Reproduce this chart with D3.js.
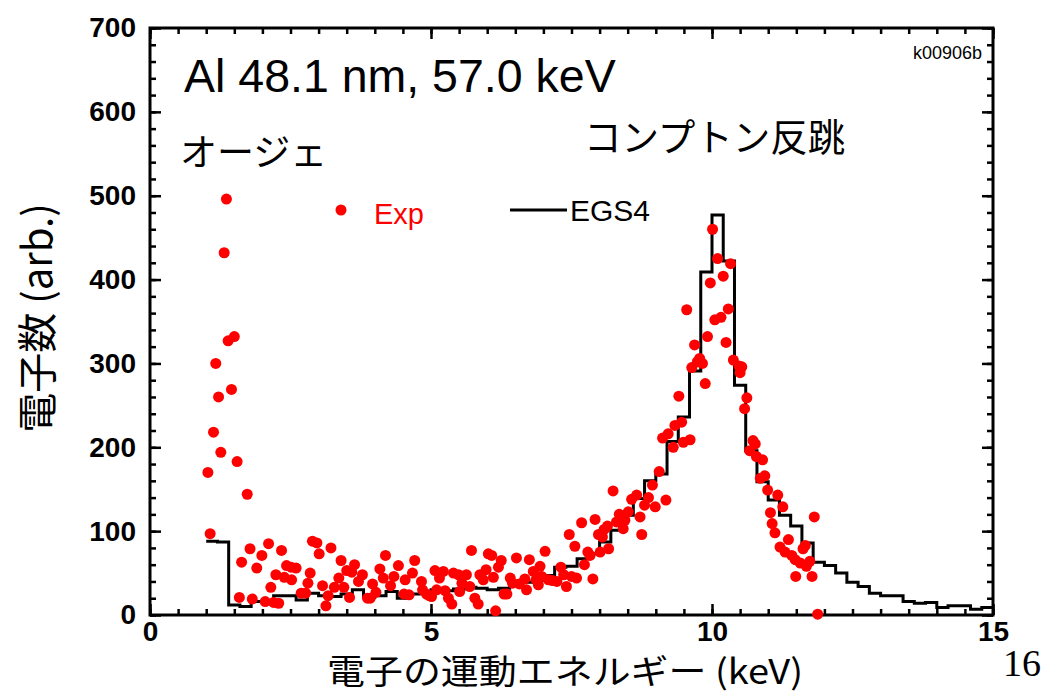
<!DOCTYPE html>
<html>
<head>
<meta charset="utf-8">
<script src="https://cdn.jsdelivr.net/npm/d3@7/dist/d3.min.js"></script>
<style>
  body { margin: 0; background: #fff; }
  svg { display: block; }
</style>
</head>
<body>
<svg id="chart" width="1044" height="694"></svg>
<script>
// axis ticks
var xTickValues = [0, 5, 10, 15];
var yTickValues = [0, 100, 200, 300, 400, 500, 600, 700];

// EGS4 histogram: left edge of each 0.2 keV bin and its count
var egsEnergy = [
    1.0, 1.2, 1.4, 1.6, 1.8, 2.0, 2.2, 2.4, 2.6, 2.8,
    3.0, 3.2, 3.4, 3.6, 3.8, 4.0, 4.2, 4.4, 4.6, 4.8,
    5.0, 5.2, 5.4, 5.6, 5.8, 6.0, 6.2, 6.4, 6.6, 6.8,
    7.0, 7.2, 7.4, 7.6, 7.8, 8.0, 8.2, 8.4, 8.6, 8.8,
    9.0, 9.2, 9.4, 9.6, 9.8, 10.0, 10.2, 10.4, 10.6, 10.8,
    11.0, 11.2, 11.4, 11.6, 11.8, 12.0, 12.2, 12.4, 12.6, 12.8,
    13.0, 13.2, 13.4, 13.6, 13.8, 14.0, 14.2, 14.4, 14.6, 14.8
];
var egsCounts = [
    88, 87, 12, 10, 16, 17, 23, 23, 18, 26,
    23, 22, 25, 30, 21, 23, 28, 20, 25, 27,
    30, 29, 31, 33, 32, 30, 32, 38, 39, 41,
    47, 57, 58, 67, 73, 87, 101, 119, 139, 160,
    168, 207, 236, 291, 409, 477, 422, 274, 196, 159,
    137, 119, 106, 86, 63, 59, 50, 39, 34, 26,
    23, 23, 16, 14, 15, 9, 11, 11, 7, 9
];
var egsEnd = 15;

// measured points (Exp)
var expEnergy = [
    1.03, 1.07, 1.13, 1.17, 1.22, 1.26, 1.32, 1.36, 1.39, 1.45, 1.50, 1.55, 1.73,
    1.59, 1.63, 1.78, 1.82, 1.90, 1.99, 2.05, 2.11, 2.15, 2.20, 2.24, 2.29, 2.34, 2.39, 2.43, 2.51, 2.52, 2.60,
    2.69, 2.77, 2.81, 2.85, 2.89, 2.97, 3.01, 3.07, 3.13, 3.17, 3.22, 3.28, 3.36, 3.40, 3.45, 3.50, 3.55, 3.59,
    3.64, 3.71, 3.78, 3.87, 3.92, 3.96, 4.02, 4.09, 4.15, 4.19, 4.28, 4.34, 4.42, 4.52, 4.54, 4.61, 4.67, 4.71,
    4.83, 4.85, 4.92, 4.97,
    5.01, 5.07, 5.10, 5.15, 5.22, 5.25, 5.31, 5.37, 5.40, 5.49, 5.51, 5.55, 5.63, 5.69, 5.72, 5.78, 5.84, 5.87,
    5.93, 5.98, 6.02, 6.08, 6.11, 6.15, 6.20, 6.25, 6.30, 6.35, 6.41, 6.45, 6.52, 6.57, 6.67, 6.70, 6.75, 6.82,
    6.87, 6.91, 6.94, 6.97, 7.03, 7.09, 7.16, 7.24, 7.31, 7.36, 7.41, 7.46, 7.50, 7.56, 7.59,
    7.68, 7.73, 7.79, 7.83, 7.88, 7.92, 7.98, 8.01, 8.05, 8.08, 8.14, 8.16, 8.24, 8.30, 8.35, 8.42, 8.45, 8.51,
    8.57, 8.66, 8.72, 8.75, 8.80, 8.87, 8.94, 8.99, 9.06, 9.12, 9.18, 9.22, 9.31, 9.34, 9.41, 9.46, 9.49, 9.61,
    9.55, 9.64, 9.69, 9.74, 9.78, 9.83, 9.88, 9.92, 9.97, 10.01, 10.05, 10.10, 10.16, 10.20, 10.25, 10.29, 10.33,
    10.38, 10.48, 10.53, 10.50, 10.58, 10.62,
    10.67, 10.73, 10.77, 10.79, 10.86, 10.90, 10.94, 10.99, 11.04, 11.07, 11.12, 11.17, 11.21, 11.26, 11.30,
    11.36, 11.42, 11.48, 11.49, 11.57, 11.62, 11.66, 11.68, 11.74, 11.78, 11.82, 11.88
];
var expCounts = [
    170, 97, 218, 300, 260, 194, 432, 496, 327, 269, 332, 183, 144,
    21, 63, 79, 19, 56, 71, 16, 85, 33, 15, 48, 14, 77, 45, 59, 57, 42, 56,
    26, 26, 38, 50, 88, 86, 73, 35, 11, 23, 80, 33, 44, 65, 33, 53, 21, 51,
    60, 40, 48, 20, 20, 37, 27, 55, 44, 71, 35, 46, 59, 25, 42, 24, 50, 65,
    40, 30, 25, 23,
    22, 53, 30, 44, 52, 29, 20, 13, 50, 48, 28, 38, 48, 34, 77, 20, 13, 48,
    42, 54, 73, 71, 45, 5, 57, 65, 25, 25, 44, 38, 68, 37, 43, 30, 66, 52,
    42, 36, 58, 46, 76, 42, 41, 40, 57, 48, 34, 96, 46, 82, 44,
    110, 60, 75, 71, 43, 114, 96, 75, 93, 102, 106, 79, 148, 111, 120, 103, 113, 123,
    138, 143, 117, 96, 131, 140, 155, 129, 171, 211, 137, 216, 200, 226, 261, 230, 206, 209,
    364, 295, 322, 302, 306, 300, 276, 332, 396, 460, 352, 425, 355, 404, 325, 365, 419,
    304, 297, 296, 289, 246, 259,
    196, 208, 204, 189, 163, 185, 166, 149, 122, 109, 98, 143, 81, 129, 75,
    90, 71, 66, 46, 62, 79, 83, 58, 64, 46, 117, 1
];

var svg = d3.select("#chart"),
    latin = "'Liberation Sans', Arial, sans-serif",
    jp = "'Noto Sans CJK JP', sans-serif",
    red = "#ff0000";

var x = d3.scaleLinear().domain([0, 15]).range([150, 993]),
    y = d3.scaleLinear().domain([0, 700]).range([615, 28]);

svg.append("rect").attr("width", 1044).attr("height", 694).attr("fill", "#fff");

var xMinor = d3.range(0, 15.001, 0.5),
    yMinor = d3.range(0, 700.001, 20);

function tickAxis(axis, scale, values, size, tx, ty, labels) {
    var g = svg.append("g")
        .attr("transform", "translate(" + tx + "," + ty + ")")
        .call(axis(scale).tickValues(values).tickSize(-size).tickSizeOuter(0)
            .tickPadding(labels ? labels.pad : 0)
            .tickFormat(labels ? d3.format("d") : ""));
    g.select(".domain").remove();
    g.selectAll(".tick line").attr("stroke", "#000").attr("stroke-width", 2.5);
    g.selectAll(".tick text")
        .attr("font-family", latin)
        .attr("font-weight", "bold")
        .attr("font-size", 28)
        .attr("fill", "#000");
    return g;
}

// minor ticks on all four sides
tickAxis(d3.axisBottom, x, xMinor, 6, 0, 615);
tickAxis(d3.axisTop, x, xMinor, 6, 0, 28);
tickAxis(d3.axisLeft, y, yMinor, 6, 150, 0);
tickAxis(d3.axisRight, y, yMinor, 6, 993, 0);
// major ticks + labels
tickAxis(d3.axisBottom, x, xTickValues, 11, 0, 615, {pad: 6});
tickAxis(d3.axisTop, x, xTickValues, 11, 0, 28);
tickAxis(d3.axisLeft, y, yTickValues, 11, 150, 0, {pad: 14});
tickAxis(d3.axisRight, y, yTickValues, 11, 993, 0);

// frame
svg.append("rect")
    .attr("x", 150).attr("y", 28)
    .attr("width", 843).attr("height", 587)
    .attr("fill", "none")
    .attr("stroke", "#000")
    .attr("stroke-width", 3);

// EGS4 histogram
var steps = egsEnergy.map(function (e, i) { return [e, egsCounts[i]]; });
steps.push([egsEnd, egsCounts[egsCounts.length - 1]]);

svg.append("path")
    .datum(steps)
    .attr("fill", "none")
    .attr("stroke", "#000")
    .attr("stroke-width", 3)
    .attr("d", d3.line()
        .x(function (d) { return x(d[0]); })
        .y(function (d) { return y(d[1]); })
        .curve(d3.curveStepAfter));

// Exp points
svg.append("g")
    .selectAll("circle")
    .data(expEnergy)
    .enter()
    .append("circle")
    .attr("cx", function (d) { return x(d); })
    .attr("cy", function (d, i) { return y(expCounts[i]); })
    .attr("r", 5.5)
    .attr("fill", red);

// texts inside the plot
svg.append("text")
    .attr("x", 184).attr("y", 92)
    .attr("font-family", latin).attr("font-size", 46.5)
    .text("Al 48.1 nm, 57.0 keV");

svg.append("text")
    .attr("x", 982).attr("y", 59)
    .attr("text-anchor", "end")
    .attr("font-family", latin).attr("font-size", 18)
    .text("k00906b");

svg.append("text")
    .attr("x", 180).attr("y", 166)
    .attr("font-family", jp).attr("font-size", 37)
    .text("オージェ");

svg.append("text")
    .attr("x", 584).attr("y", 151)
    .attr("font-family", jp).attr("font-size", 37.5)
    .text("コンプトン反跳");

// legend
svg.append("circle").attr("cx", 341).attr("cy", 210).attr("r", 5.5).attr("fill", red);
svg.append("text")
    .attr("x", 374).attr("y", 224)
    .attr("font-family", latin).attr("font-size", 29)
    .attr("fill", red)
    .text("Exp");
svg.append("line")
    .attr("x1", 510).attr("x2", 567).attr("y1", 210).attr("y2", 210)
    .attr("stroke", "#000").attr("stroke-width", 3);
svg.append("text")
    .attr("x", 570).attr("y", 221)
    .attr("font-family", latin).attr("font-size", 30)
    .text("EGS4");

// axis titles
svg.append("text")
    .attr("transform", "translate(52,318) rotate(-90)")
    .attr("text-anchor", "middle")
    .attr("font-family", jp).attr("font-size", 40)
    .text("電子数 (arb.)");

svg.append("text")
    .attr("x", 565).attr("y", 684)
    .attr("text-anchor", "middle")
    .attr("font-family", jp).attr("font-size", 34)
    .attr("textLength", 476)
    .attr("lengthAdjust", "spacingAndGlyphs")
    .text("電子の運動エネルギー (keV)");

// page number
svg.append("text")
    .attr("x", 1041).attr("y", 676)
    .attr("text-anchor", "end")
    .attr("font-family", "'Liberation Serif', 'Times New Roman', serif")
    .attr("font-size", 38)
    .text("16");
</script>
</body>
</html>
